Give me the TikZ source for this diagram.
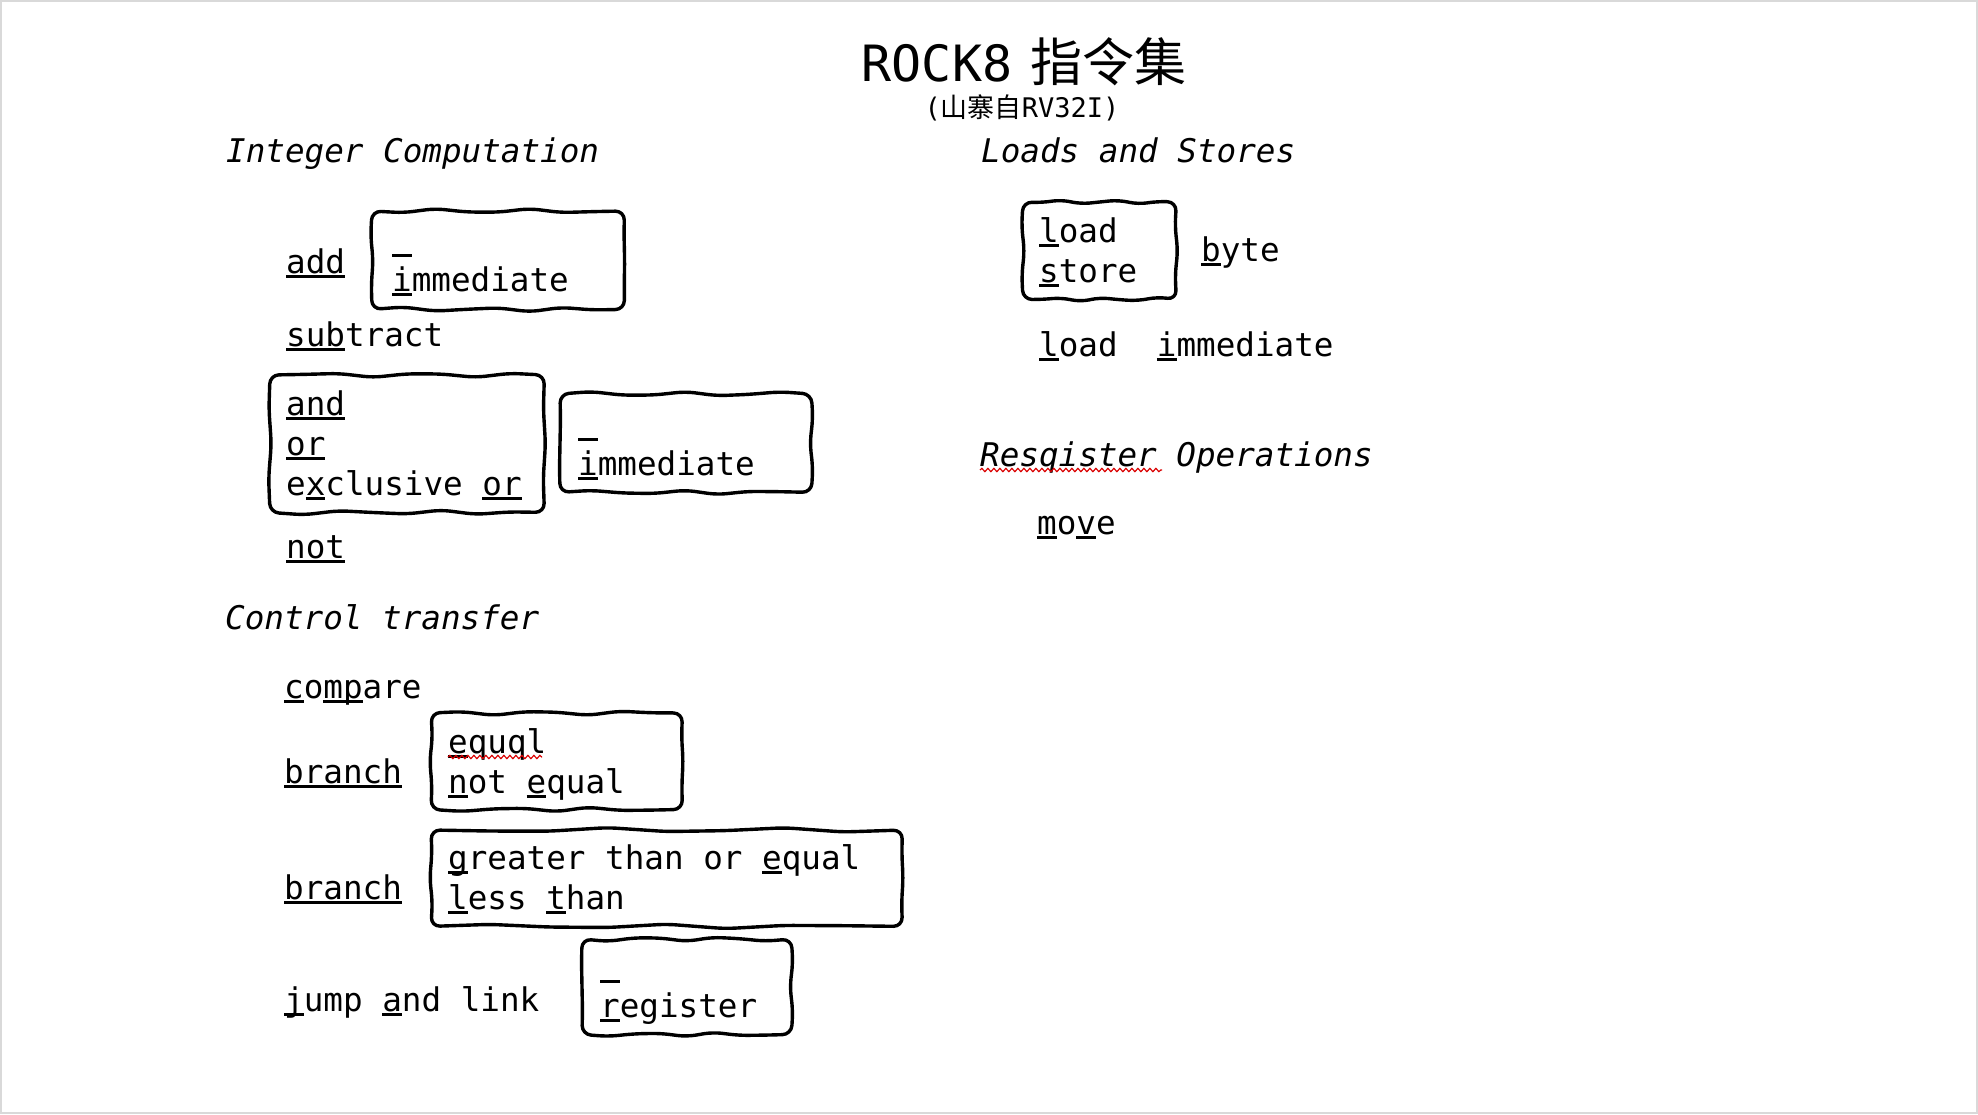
\documentclass[tikz,border=0pt]{standalone}
\usepackage{fontspec}
\usetikzlibrary{decorations.pathmorphing,calc}
\newfontfamily\mono{DejaVu Sans Mono}
\newfontfamily\cjk{Noto Sans CJK SC}
% underline a mnemonic letter (or a space)
\newcommand\mnem[1]{\setbox0=\hbox{#1}\rlap{\rule[-4.5pt]{\wd0}{3pt}}\box0}
\tikzset{
  txt/.style={anchor=base west, inner sep=0pt, yshift=-2pt, font=\mono\fontsize{32.6pt}{40pt}\selectfont},
  head/.style={txt, font=\mono\itshape\fontsize{32.6pt}{40pt}\selectfont},
  area/.style={anchor=north west, inner sep=0pt},
  boxline/.style={line width=3.4pt, rounded corners=9pt, line join=round},
  squig/.style={draw=red!85!black, line width=1.2pt, decorate,
    decoration={snake, amplitude=1.6pt, segment length=6pt}},
}
% hand-drawn outline around a named area node; #2 shifts the wave phase
\newcommand\wob[2]{%
\draw[boxline] (#1.north west)
  \foreach \t in {0.125,0.25,...,0.9} { -- ($(#1.north west)!\t!(#1.north east)+(0,{2.4*sin(\t*1000+#2)})$) }
  -- (#1.north east)
  \foreach \t in {0.25,0.5,0.75} { -- ($(#1.north east)!\t!(#1.south east)+({1.4*sin(\t*700+2*#2)},0)$) }
  -- (#1.south east)
  \foreach \t in {0.125,0.25,...,0.9} { -- ($(#1.south east)!\t!(#1.south west)+(0,{2.4*sin(\t*1100+3*#2)})$) }
  -- (#1.south west)
  \foreach \t in {0.25,0.5,0.75} { -- ($(#1.south west)!\t!(#1.north west)+({1.4*sin(\t*800+#2)},0)$) }
  -- cycle;}
\begin{document}
\begin{tikzpicture}[x=1pt, y=-1pt]
\useasboundingbox (0,0) rectangle (1978,1114);
\draw[gray!30, line width=2.5pt] (1.2,1.2) rectangle (1976.8,1112.8);

% title
\node[anchor=base, inner sep=0pt] (title) at (1024,81)
  {{\mono\fontsize{50pt}{54pt}\selectfont ROCK8\hspace{18pt}}{\cjk\fontsize{52pt}{54pt}\selectfont 指令集}};
\node[anchor=base, inner sep=0pt] (subtitle) at (1022,117)
  {{\mono\fontsize{27pt}{30pt}\selectfont (}{\cjk\fontsize{27pt}{30pt}\selectfont 山寨自}{\mono\fontsize{27pt}{30pt}\selectfont RV32I)}};

% Integer Computation
\node[head] (ic) at (226,160) {Integer Computation};
\node[txt] (add) at (286,271) {\mnem{add}};
\node[area, minimum width=252pt, minimum height=98pt] (b1) at (372,211) {};
\wob{b1}{10}
\node[txt] (b1a) at (392,250) {\mnem{\ }};
\node[txt] (b1b) at (392,289) {\mnem{i}mmediate};
\node[txt] (sub) at (286,344) {\mnem{sub}tract};
\node[area, minimum width=274pt, minimum height=137pt] (b2) at (270,375) {};
\wob{b2}{70}
\node[txt] (and) at (286,413) {\mnem{and}};
\node[txt] (or) at (286,453) {\mnem{or}};
\node[txt] (xor) at (286,493) {e\mnem{x}clusive \mnem{or}};
\node[area, minimum width=251pt, minimum height=98pt] (b3) at (560,394) {};
\wob{b3}{140}
\node[txt] (b3a) at (578,434) {\mnem{\ }};
\node[txt] (b3b) at (578,473) {\mnem{i}mmediate};
\node[txt] (not) at (286,556) {\mnem{not}};

% Control transfer
\node[head] (ct) at (225,627) {Control transfer};
\node[txt] (cmp) at (284,696) {\mnem{c}o\mnem{mp}are};
\node[txt] (br1) at (284,781) {\mnem{branch}};
\node[area, minimum width=251pt, minimum height=96pt] (b4) at (431,713) {};
\wob{b4}{200}
\node[txt] (eq) at (448,751) {\mnem{e}quql};
\node[txt] (ne) at (448,791) {\mnem{n}ot \mnem{e}qual};
\coordinate (sq1a) at (448,757);
\coordinate (sq1b) at (542,757);
\path[squig] (sq1a) -- (sq1b);
\node[txt] (br2) at (284,897) {\mnem{branch}};
\node[area, minimum width=471pt, minimum height=96pt] (b5) at (431,830) {};
\wob{b5}{260}
\node[txt] (ge) at (448,867) {\mnem{g}reater than or \mnem{e}qual};
\node[txt] (lt) at (448,907) {\mnem{l}ess \mnem{t}han};
\node[txt] (jal) at (284,1009) {\mnem{j}ump \mnem{a}nd link};
\node[area, minimum width=209pt, minimum height=95pt] (b6) at (582,939) {};
\wob{b6}{320}
\node[txt] (b6a) at (600,976) {\mnem{\ }};
\node[txt] (b6b) at (600,1015) {\mnem{r}egister};

% Loads and Stores
\node[head] (ls) at (981,160) {Loads and Stores};
\node[area, minimum width=153pt, minimum height=97pt] (b7) at (1023,202) {};
\wob{b7}{40}
\node[txt] (ld) at (1039,240) {\mnem{l}oad};
\node[txt] (st) at (1039,280) {\mnem{s}tore};
\node[txt] (byte) at (1201,259) {\mnem{b}yte};
\node[txt] (li) at (1039,354) {\mnem{l}oad\ \ \mnem{i}mmediate};

% Register Operations
\node[head] (ro) at (980,464) {Resqister Operations};
\coordinate (sq2a) at (980,470);
\coordinate (sq2b) at (1162,470);
\path[squig] (sq2a) -- (sq2b);
\node[txt] (mv) at (1037,532) {\mnem{m}o\mnem{v}e};
\end{tikzpicture}
\end{document}
